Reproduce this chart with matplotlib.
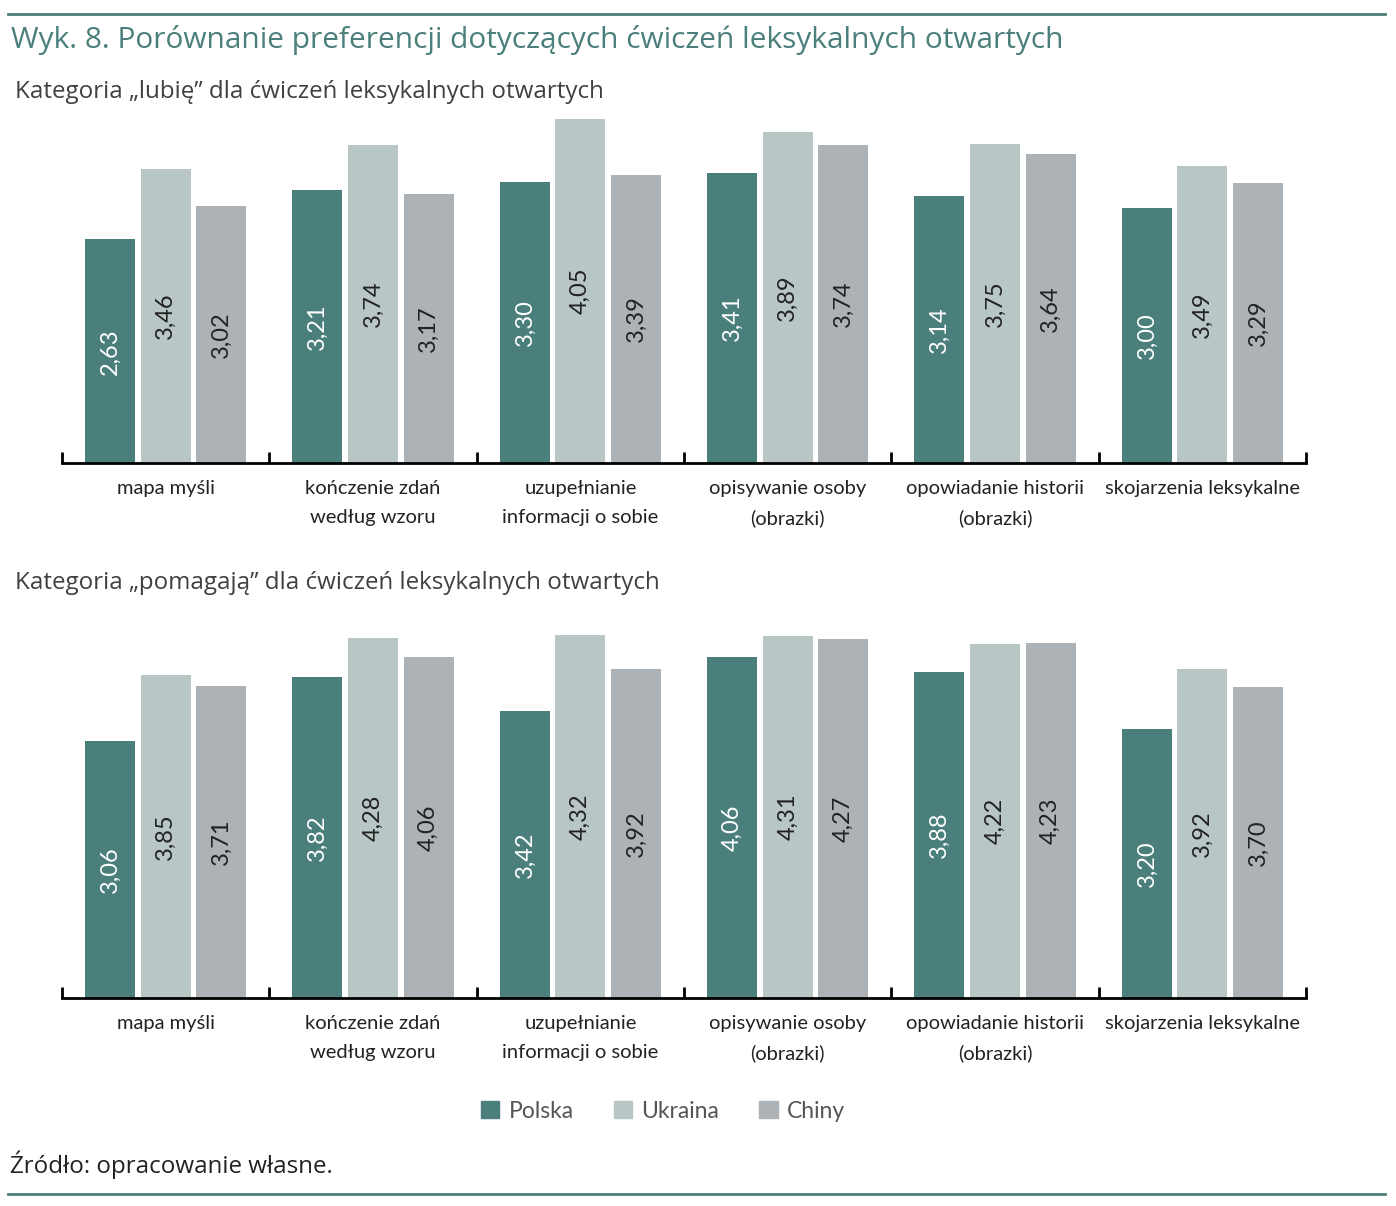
import numpy as np
import matplotlib
matplotlib.use('Agg')
import matplotlib.pyplot as plt
from matplotlib.patches import Patch
from matplotlib.lines import Line2D

# data
categories = ['mapa myśli', 'kończenie zdań\nwedług wzoru', 'uzupełnianie\ninformacji o sobie',
              'opisywanie osoby\n(obrazki)', 'opowiadanie historii\n(obrazki)', 'skojarzenia leksykalne']
series = ['Polska', 'Ukraina', 'Chiny']

lubie_polska = [2.63, 3.21, 3.30, 3.41, 3.14, 3.00]
lubie_ukraina = [3.46, 3.74, 4.05, 3.89, 3.75, 3.49]
lubie_chiny = [3.02, 3.17, 3.39, 3.74, 3.64, 3.29]

pomagaja_polska = [3.06, 3.82, 3.42, 4.06, 3.88, 3.20]
pomagaja_ukraina = [3.85, 4.28, 4.32, 4.31, 4.22, 3.92]
pomagaja_chiny = [3.71, 4.06, 3.92, 4.27, 4.23, 3.70]

TEAL = '#4a7f7b'
_C = [TEAL, '#b8c6c6', '#adb2b6']
_TXT = ['white', '#222222', '#222222']

W, H = 1396, 1206
plt.rcParams['font.family'] = ['Lato', 'DejaVu Sans']

fig = plt.figure(figsize=(W / 100, H / 100), dpi=100)


def px(x, y):
    return x / W, 1 - y / H


def draw_panel(rect, data, ymax):
    ax = fig.add_axes(rect)
    x = np.arange(len(categories))
    off, bw = 0.268, 0.241
    for i, vals in enumerate(data):
        xs = x + (i - 1) * off
        ax.bar(xs, vals, width=bw, color=_C[i], zorder=2)
        for xi, v in zip(xs, vals):
            ax.text(xi, v / 2, f'{v:.2f}'.replace('.', ','), rotation=90,
                    ha='center', va='center', fontsize=17,
                    color=_TXT[i])
    ax.set_xlim(-0.5, len(categories) - 0.5)
    ax.set_ylim(0, ymax)
    for s in ['top', 'right', 'left']:
        ax.spines[s].set_visible(False)
    ax.spines['bottom'].set_linewidth(2)
    ax.set_yticks([])
    ax.set_xticks(x)
    ax.set_xticklabels(categories, fontsize=14.5, color='#222222', linespacing=1.85)
    ax.tick_params(axis='x', which='major', length=0, pad=12)
    ax.set_xticks(np.arange(-0.5, len(categories)), minor=True)
    ax.tick_params(axis='x', which='minor', direction='in', length=8, width=2)
    return ax


# top panel: baseline y=463, 85 px/unit
top_h = 85 * 4.6
draw_panel([62 / W, (H - 463) / H, (1306 - 62) / W, top_h / H],
           [lubie_polska, lubie_ukraina, lubie_chiny], 4.6)

# bottom panel: baseline y=998, 84 px/unit
bot_h = 84 * 4.6
draw_panel([62 / W, (H - 998) / H, (1306 - 62) / W, bot_h / H],
           [pomagaja_polska, pomagaja_ukraina, pomagaja_chiny], 4.6)

# header / footer
fig.add_artist(Line2D([8 / W, 1385 / W], [1 - 14 / H] * 2, color=TEAL, lw=2))
fig.add_artist(Line2D([8 / W, 1385 / W], [1 - 1194 / H] * 2, color=TEAL, lw=2))

_HF = ['Open Sans', 'DejaVu Sans']
fig.text(*px(11, 40), 'Wyk. 8. Porównanie preferencji dotyczących ćwiczeń leksykalnych otwartych',
         fontsize=21.5, color=TEAL, va='center', family=_HF)
fig.text(*px(15, 92), 'Kategoria „lubię” dla ćwiczeń leksykalnych otwartych',
         fontsize=17.4, color='#404040', va='center', family=_HF)
fig.text(*px(15, 583), 'Kategoria „pomagają” dla ćwiczeń leksykalnych otwartych',
         fontsize=17.4, color='#404040', va='center', family=_HF)
fig.text(*px(10, 1165), 'Źródło: opracowanie własne.',
         fontsize=17.4, color='#222222', va='center', family=_HF)

handles = [Patch(color=c) for c in _C]
fig.legend(handles, series, loc='center', bbox_to_anchor=px(663, 1111), ncol=3,
           frameon=False, fontsize=16.5, handlelength=0.8, handleheight=0.8,
           handletextpad=0.4, columnspacing=1.75, labelcolor='#555555')

fig.savefig('out.png', dpi=100)
